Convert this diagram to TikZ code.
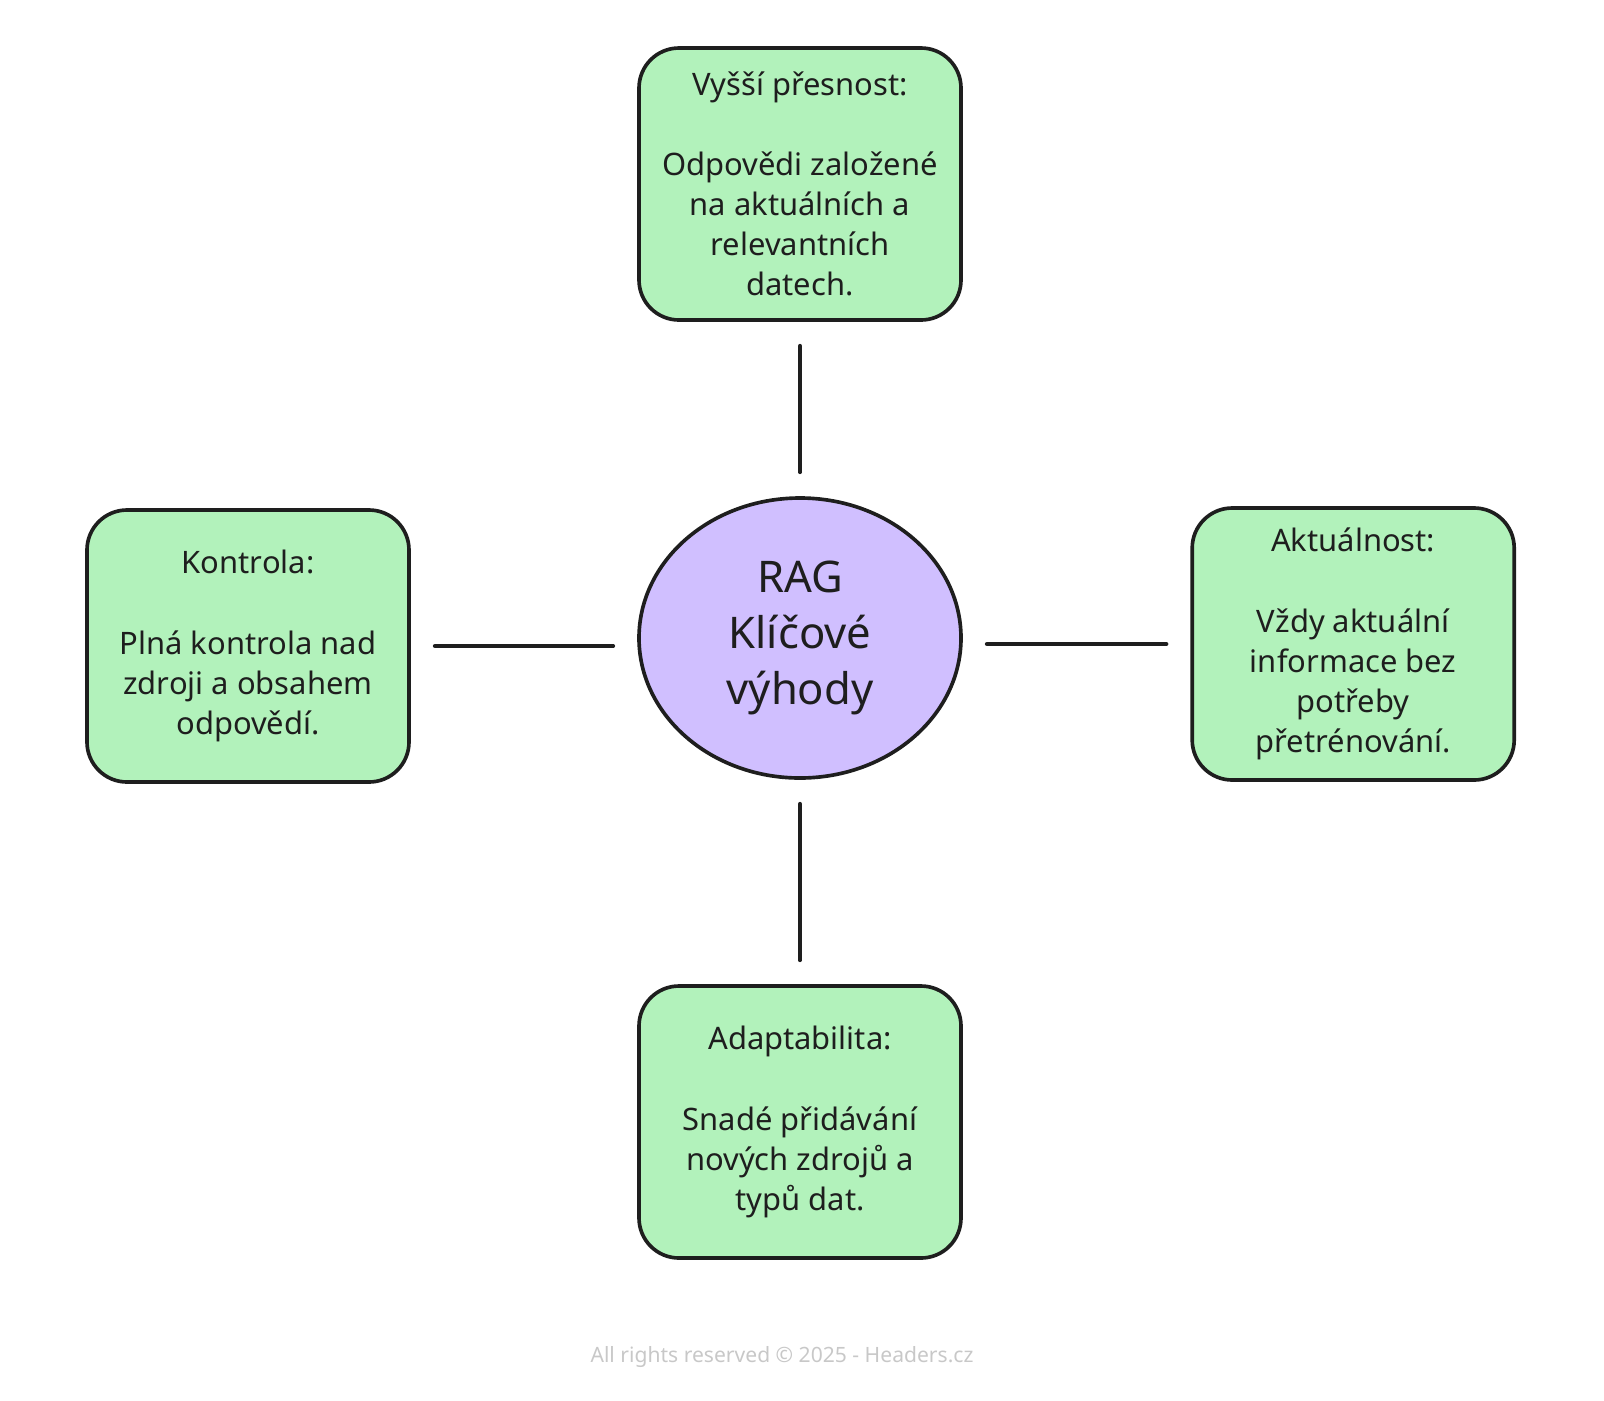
\documentclass[tikz,border=0pt]{standalone}
\usepackage{fontspec}
\setmainfont{Noto Sans}
\usetikzlibrary{shapes.geometric}
\definecolor{ink}{HTML}{1E1E1E}
\definecolor{boxgreen}{HTML}{B2F2BB}
\definecolor{hublilac}{HTML}{D0BFFF}
\definecolor{footgray}{HTML}{C8C8C8}
\tikzset{
  benefit/.style={draw=ink, fill=boxgreen, line width=2.6pt, rounded corners=1cm,
    minimum width=8.05cm, minimum height=6.8cm, align=center, text=ink,
    font=\fontsize{22}{28.5}\selectfont},
  hub/.style={ellipse, draw=ink, fill=hublilac, line width=2.6pt,
    minimum width=8.05cm, minimum height=7cm, align=center, text=ink,
    font=\fontsize{31}{40}\selectfont},
  spoke/.style={draw=ink, line width=2.8pt, line cap=round, shorten <=0.6cm, shorten >=0.6cm},
}
\begin{document}
\begin{tikzpicture}[line join=round]
\useasboundingbox (0,0) rectangle (40.1,-35);
\node[hub]     (rag)    at (20.0,-15.95) {RAG\\Klíčové\\výhody};
\node[benefit] (presnost) at (20.0,-4.6)  {Vyšší přesnost:\\[28.5pt]Odpovědi založené\\na aktuálních a\\relevantních\\datech.};
\node[benefit] (kontrola) at (6.2,-16.15) {Kontrola:\\[28.5pt]Plná kontrola nad\\zdroji a obsahem\\odpovědí.};
\node[benefit] (aktualnost) at (33.83,-16.1) {Aktuálnost:\\[28.5pt]Vždy aktuální\\informace bez\\potřeby\\přetrénování.};
\node[benefit] (adapt)  at (20.0,-28.05) {Adaptabilita:\\[28.5pt]Snadé přidávání\\nových zdrojů a\\typů dat.};
\node[text=footgray, font=\fontsize{15}{18}\selectfont] (footer) at (19.55,-33.93) {All rights reserved © 2025 - Headers.cz};
\draw[spoke] (presnost) -- (rag);
\draw[spoke] (rag) -- (adapt);
\draw[spoke] (kontrola) -- (kontrola -| rag.west);
\draw[spoke] (rag.east |- aktualnost) -- (aktualnost);
\end{tikzpicture}
\end{document}
